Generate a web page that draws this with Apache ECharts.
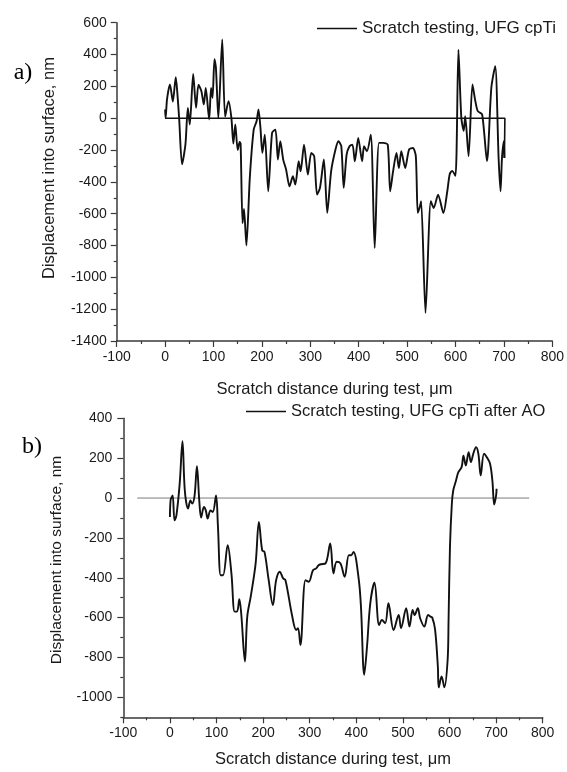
<!DOCTYPE html>
<html>
<head>
<meta charset="utf-8">
<script src="https://cdn.jsdelivr.net/npm/echarts@6/dist/echarts.min.js"></script>
<style>
html,body{margin:0;padding:0;background:#fff;}
#c{width:567px;height:772px;}
</style>
</head>
<body>
<div id="c"></div>
<script>
// ---------- Data: chart a) ----------
const distA = [0,1,4,10,16,22,25,29,35,42,47,51,58,64,69,75,80,84,91,95,98,102,105,110,118,124,131,137,141,145,150,154,156,160,163,168,175,183,189,193,197,201,206,213,221,228,233,238,244,250,257,264,269,276,280,287,295,302,308,314,320,328,335,343,352,358,364,369,375,381,387,392,399,407,411,417,425,433,442,451,460,465,471,478,483,488,496,504,512,518,522,526,529,538,549,555,564,575,583,588,593,600,606,612,617,620,627,635,641,646,655,665,674,682,689,693,696,700,701];
const dispA = [55,0,120,212,105,258,170,0,-290,-165,65,-40,278,65,210,170,86,190,-8,190,128,370,316,0,495,10,107,0,-160,-40,-200,-150,-160,-660,-570,-800,-375,-72,-19,55,-61,-218,-103,-459,-92,-72,-260,-145,-260,-323,-428,-365,-417,-271,-334,-166,-354,-218,-239,-480,-438,-260,-595,-334,-197,-145,-176,-438,-229,-176,-166,-271,-124,-271,-176,-208,-103,-816,-155,-155,-166,-459,-334,-218,-313,-208,-313,-197,-187,-239,-595,-560,-522,-1224,-522,-564,-480,-596,-459,-352,-331,-362,430,2,-80,13,-239,212,107,44,23,-270,191,327,-250,-459,-250,-145,-250];
// closing trace of the measurement (returns along zero line)
const loopDistA = [701,702,0];
const loopDispA = [-250,0,0];

// ---------- Data: chart b) ----------
const distB = [0,1.5,4,6,10,14,21,27,32,39,44,48,53,58,63,67,73,77,81,87,92,99,103,109,114,124,132,139,144,149,153,161,166,174,184,191,198,203,212,221,228,236,243,248,262,271,275,280,291,298,307,314,319,324,334,344,351,358,366,375,384,389,394,405,410,417,423,430,439,449,455,462,469,480,491,496,507,514,521,525,532,537,546,554,559,563,569,575,577,583,589,596,598,601,605,608,614,619,626,630,635,641,646,651,657,662,667,674,680,687,692,696,700,701];
const dispB = [-95,-10,5,13,-112,-87,72,285,38,-53,-12,-28,13,160,-12,-98,-45,-62,-103,-62,-70,13,-137,-387,-387,-237,-378,-570,-570,-508,-578,-820,-595,-487,-328,-120,-262,-270,-412,-537,-412,-370,-403,-412,-587,-662,-653,-737,-412,-420,-362,-353,-337,-332,-328,-228,-378,-320,-328,-395,-287,-287,-270,-403,-545,-887,-745,-528,-425,-637,-612,-628,-528,-662,-587,-653,-553,-645,-562,-587,-553,-603,-645,-587,-595,-600,-659,-845,-950,-895,-949,-811,-612,-245,-30,38,88,130,155,213,163,230,180,222,255,222,113,222,205,172,88,-33,13,47];
const zeroDistB = [-70,771];
const zeroDispB = [0,0];

// ---------- Axis ticks / labels ----------
const xTicks = {min:-100, max:800, interval:100};
const yTicksA = {min:-1400, max:600, interval:200};
const yMajorB = [-1000,-800,-600,-400,-200,0,200,400];
const yMinorB = [-1100,-900,-700,-500,-300,-100,100,300];
const nameA = 'Scratch testing, UFG cpTi';
const nameB = 'Scratch testing, UFG cpTi after AO';
const xTitle = 'Scratch distance during test, \u03bcm';
const yTitle = 'Displacement into surface, nm';

const pairs = (xs, ys) => xs.map((x, i) => [x, ys[i]]);
const plain = v => String(v);

const FONT = '"Liberation Sans", Arial, sans-serif';
const AX = '#3a3a3a';
const TXT = '#1a1a1a';

function xAxisCfg(grid, gap) {
  return {
    type:'value', gridIndex:grid, min:xTicks.min, max:xTicks.max, interval:xTicks.interval,
    axisLine:{show:true, onZero:false, lineStyle:{color:AX, width:1.5}},
    axisTick:{show:true, length:6, lineStyle:{color:AX, width:1.2}},
    minorTick:{show:true, splitNumber:2, length:3, lineStyle:{color:AX, width:1.2}},
    splitLine:{show:false},
    axisLabel:{color:TXT, fontFamily:FONT, fontSize:14, margin:9, formatter:plain},
    name:xTitle, nameLocation:'middle', nameGap:gap,
    nameTextStyle:{color:TXT, fontFamily:FONT, fontSize:16.5}
  };
}

const option = {
  animation:false,
  backgroundColor:'#fff',
  grid:[
    {left:116.7, right:12, top:22.7, height:318.3},
    {left:123.3, right:24.3, top:418.3, height:299}
  ],
  legend:[
    {data:[nameA], left:312, top:15, itemWidth:40, itemHeight:14, icon:'path://M0,0 L40,0 L40,1.6 L0,1.6 Z',
     textStyle:{color:TXT, fontFamily:FONT, fontSize:17}},
    {data:[nameB], left:241, top:398, itemWidth:40, itemHeight:14, icon:'path://M0,0 L40,0 L40,1.6 L0,1.6 Z',
     textStyle:{color:TXT, fontFamily:FONT, fontSize:16.5}}
  ],
  xAxis:[ xAxisCfg(0, 40), xAxisCfg(1, 34) ],
  yAxis:[
    {
      type:'value', gridIndex:0, min:yTicksA.min, max:yTicksA.max, interval:yTicksA.interval,
      axisLine:{show:true, onZero:false, lineStyle:{color:AX, width:1.5}},
      axisTick:{show:true, length:6, lineStyle:{color:AX, width:1.2}},
      minorTick:{show:true, splitNumber:2, length:3, lineStyle:{color:AX, width:1.2}},
      splitLine:{show:false},
      axisLabel:{color:TXT, fontFamily:FONT, fontSize:14, margin:10, formatter:plain}
    },
    {
      type:'value', gridIndex:1, min:-1100, max:400,
      axisLine:{show:true, onZero:false, lineStyle:{color:AX, width:1.5}},
      axisTick:{show:true, length:6, customValues:yMajorB, lineStyle:{color:AX, width:1.2}},
      splitLine:{show:false},
      axisLabel:{color:TXT, fontFamily:FONT, fontSize:14, margin:11, customValues:yMajorB, formatter:plain}
    },
    {
      type:'value', gridIndex:1, min:-1100, max:400, position:'left',
      axisLine:{show:false, onZero:false},
      axisTick:{show:true, length:3, customValues:yMinorB, lineStyle:{color:AX, width:1.2}},
      splitLine:{show:false},
      axisLabel:{show:false}
    }
  ],
  graphic:[
    {type:'text', x:23, y:73, style:{text:'a)', font:'24px "Liberation Serif", "Times New Roman", serif', fill:'#000', align:'center', verticalAlign:'middle'}},
    {type:'text', x:32, y:447, style:{text:'b)', font:'24px "Liberation Serif", "Times New Roman", serif', fill:'#000', align:'center', verticalAlign:'middle'}},
    {type:'text', x:49, y:168, rotation:Math.PI/2, style:{text:yTitle, font:'16.5px "Liberation Sans", Arial, sans-serif', fill:TXT, align:'center', verticalAlign:'middle'}},
    {type:'text', x:57, y:560, rotation:Math.PI/2, style:{text:yTitle, font:'15.5px "Liberation Sans", Arial, sans-serif', fill:TXT, align:'center', verticalAlign:'middle'}}
  ],
  series:[
    {name:nameA, type:'line', xAxisIndex:0, yAxisIndex:0, data:pairs(distA, dispA), symbol:'none', smooth:0.25,
     lineStyle:{color:'#111', width:1.9}, itemStyle:{color:'#111'}},
    {name:'loopA', type:'line', xAxisIndex:0, yAxisIndex:0, data:pairs(loopDistA, loopDispA), symbol:'none',
     lineStyle:{color:'#111', width:1.6}},
    {name:'zeroB', type:'line', xAxisIndex:1, yAxisIndex:1, data:pairs(zeroDistB, zeroDispB), symbol:'none',
     lineStyle:{color:'#7a7a7a', width:1}},
    {name:nameB, type:'line', xAxisIndex:1, yAxisIndex:1, data:pairs(distB, dispB), symbol:'none', smooth:0.35,
     lineStyle:{color:'#111', width:1.9}, itemStyle:{color:'#111'}}
  ]
};

const chart = echarts.init(document.getElementById('c'), null, {renderer:'canvas'});
chart.setOption(option);
</script>
</body>
</html>
